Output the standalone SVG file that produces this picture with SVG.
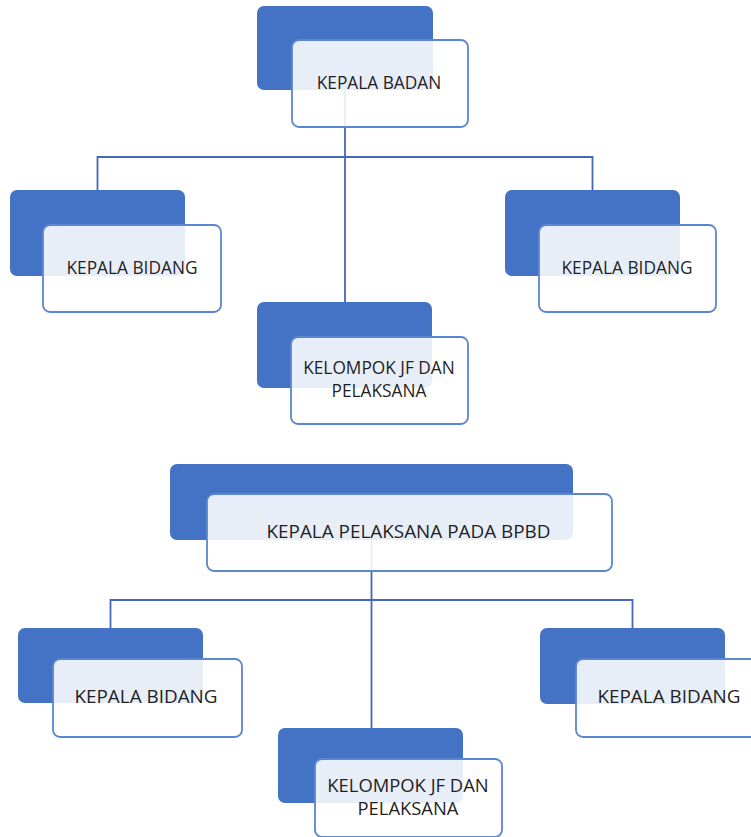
<svg xmlns="http://www.w3.org/2000/svg" width="751" height="837" viewBox="0 0 751 837">
<style>
.back{fill:#4472C4;}
.front{fill:#ffffff;fill-opacity:0.88;stroke:#5B86D0;stroke-width:1.8;}
.conn{fill:none;stroke:#4468B8;stroke-width:1.8;}
text{font-family:"Open Sans","Noto Sans","DejaVu Sans",sans-serif;fill:#1f1f1f;text-anchor:middle;}
.t1{font-size:17.3px;}
.t2{font-size:18.9px;}
.t3{font-size:18.4px;}
</style>
<rect width="751" height="837" fill="#ffffff"/>
<g id="connectors">
<path class="conn" d="M345 90 V302 M97.5 190 V157 H592.5 V190"/>
<path class="conn" d="M371.5 540 V728 M110.5 628 V600 H632.5 V628"/>
</g>
<g id="kepala-badan">
<rect class="back" x="257" y="6" width="176" height="84" rx="7"/>
<rect class="front" x="292" y="40" width="176" height="87" rx="7"/>
<text class="t1" x="379" y="89">KEPALA BADAN</text>
</g>
<g id="kepala-bidang-1">
<rect class="back" x="10" y="190" width="175" height="86" rx="7"/>
<rect class="front" x="43" y="225" width="178" height="87" rx="7"/>
<text class="t1" x="132" y="274">KEPALA BIDANG</text>
</g>
<g id="kepala-bidang-2">
<rect class="back" x="505" y="190" width="175" height="86" rx="7"/>
<rect class="front" x="539" y="225" width="177" height="87" rx="7"/>
<text class="t1" x="627" y="274">KEPALA BIDANG</text>
</g>
<g id="kelompok-jf-1">
<rect class="back" x="257" y="302" width="175" height="86" rx="7"/>
<rect class="front" x="291" y="337" width="177" height="87" rx="7"/>
<text class="t1" x="379" y="374">KELOMPOK JF DAN</text>
<text class="t1" x="379" y="397">PELAKSANA</text>
</g>
<g id="kepala-pelaksana">
<rect class="back" x="170" y="464" width="403" height="76" rx="7"/>
<rect class="front" x="207" y="494" width="405" height="77" rx="7"/>
<text class="t2" x="408.5" y="538">KEPALA PELAKSANA PADA BPBD</text>
</g>
<g id="kepala-bidang-3">
<rect class="back" x="18" y="628" width="185" height="75" rx="7"/>
<rect class="front" x="53" y="659" width="189" height="78" rx="7"/>
<text class="t2" x="146" y="703">KEPALA BIDANG</text>
</g>
<g id="kepala-bidang-4">
<rect class="back" x="540" y="628" width="185" height="76" rx="7"/>
<rect class="front" x="576" y="659" width="189" height="78" rx="7"/>
<text class="t2" x="669" y="703">KEPALA BIDANG</text>
</g>
<g id="kelompok-jf-2">
<rect class="back" x="278" y="728" width="185" height="75" rx="7"/>
<rect class="front" x="315" y="759" width="187" height="78" rx="7"/>
<text class="t3" x="408" y="792">KELOMPOK JF DAN</text>
<text class="t3" x="408" y="815">PELAKSANA</text>
</g>
</svg>
